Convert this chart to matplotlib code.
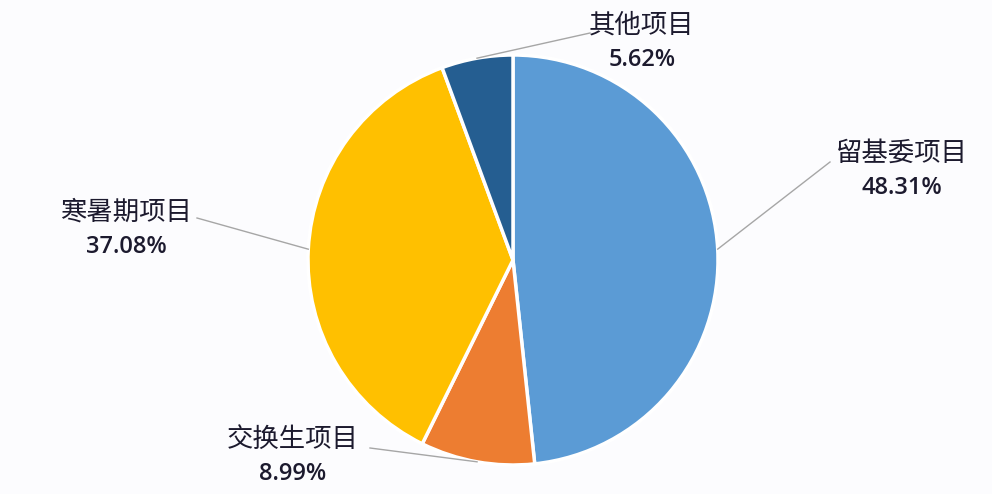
"""Pie chart of project categories with leader-line labels."""

import matplotlib.pyplot as plt
import numpy as np

plt.rcParams["font.family"] = ["Noto Sans CJK SC", "DejaVu Sans"]

categories = ["留基委项目", "交换生项目", "寒暑期项目", "其他项目"]
shares = [48.31, 8.99, 37.08, 5.62]
colors = ["#5B9BD5", "#ED7D31", "#FFC000", "#255E91"]
# label anchor (text centre) and leader-line end, in pixel coords (y from bottom)
label_xy = [(902, 324), (293, 38), (126, 265), (642, 452)]
line_end = [(830, 332), (370, 46), (197, 276), (590, 461)]

W, H = 992, 494
CENTER = (513, 234)
RADIUS = 205


def main() -> None:
    fig = plt.figure(figsize=(W / 100, H / 100), dpi=100, facecolor="#fcfcfe")
    ax = fig.add_axes([0, 0, 1, 1])

    wedges, _ = ax.pie(
        shares,
        colors=colors,
        startangle=90,
        counterclock=False,
        center=CENTER,
        radius=RADIUS,
        wedgeprops={"edgecolor": "white", "linewidth": 2.5},
        frame=True,
    )
    ax.set_xlim(0, W)
    ax.set_ylim(0, H)
    ax.set_aspect("equal")
    ax.axis("off")

    for wedge, name, share, (tx, ty), (lx, ly) in zip(
        wedges, categories, shares, label_xy, line_end, strict=True
    ):
        mid = np.deg2rad((wedge.theta1 + wedge.theta2) / 2)
        px = CENTER[0] + RADIUS * np.cos(mid)
        py = CENTER[1] + RADIUS * np.sin(mid)
        ax.plot([px, lx], [py, ly], color="#a6a6a6", linewidth=1.0)
        ax.text(tx, ty + 17, name, ha="center", va="center", fontsize=19, color="#1c1a2e")
        ax.text(tx, ty - 18, f"{share:.2f}%", ha="center", va="center", fontsize=17,
                color="#1c1a2e", fontweight="semibold", family=["Open Sans", "DejaVu Sans"])

    fig.savefig("out.png", dpi=100, facecolor=fig.get_facecolor())
    plt.close(fig)


if __name__ == "__main__":
    main()
